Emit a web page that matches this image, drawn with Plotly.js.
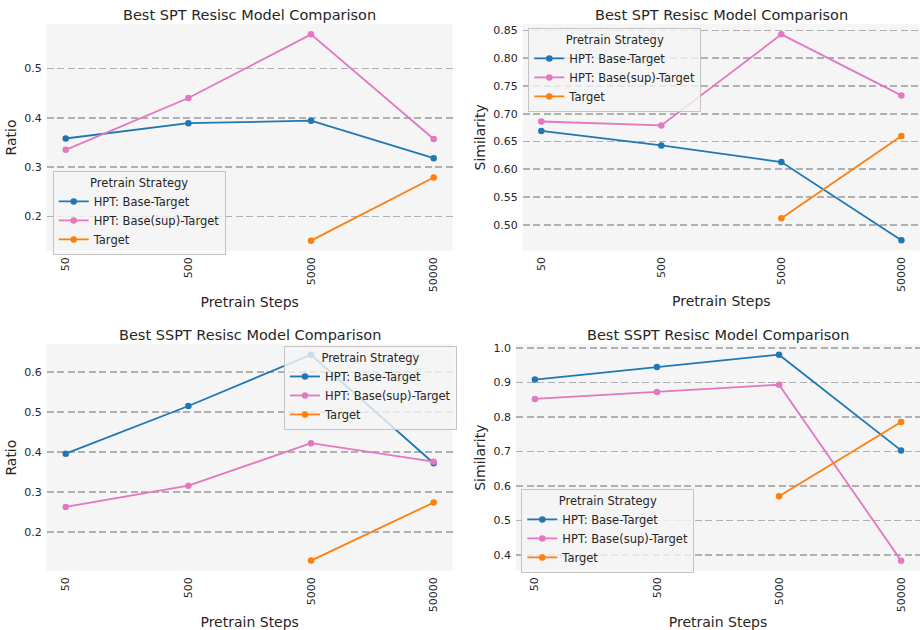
<!DOCTYPE html>
<html>
<head>
<meta charset="utf-8">
<script src="https://cdn.plot.ly/plotly-3.0.1.min.js"></script>
<style>html,body{margin:0;padding:0;background:#fff}#chart{width:920px;height:630px}</style>
</head>
<body>
<div id="chart"></div>
<script>
// ---- data ----
const steps = ['50', '500', '5000', '50000'];
const targetSteps = ['5000', '50000'];
const seriesNames = ['HPT: Base-Target', 'HPT: Base(sup)-Target', 'Target'];
const panelTitles = ['Best SPT Resisc Model Comparison', 'Best SPT Resisc Model Comparison',
                     'Best SSPT Resisc Model Comparison', 'Best SSPT Resisc Model Comparison'];
const yTitles = ['Ratio', 'Similarity', 'Ratio', 'Similarity'];

const sptRatioBase   = [0.358, 0.389, 0.394, 0.318];
const sptRatioSup    = [0.335, 0.440, 0.569, 0.357];
const sptRatioTarget = [0.151, 0.279];

const sptSimBase   = [0.669, 0.643, 0.613, 0.472];
const sptSimSup    = [0.686, 0.679, 0.843, 0.733];
const sptSimTarget = [0.512, 0.660];

const ssptRatioBase   = [0.396, 0.515, 0.643, 0.372];
const ssptRatioSup    = [0.263, 0.316, 0.422, 0.376];
const ssptRatioTarget = [0.129, 0.274];

const ssptSimBase   = [0.908, 0.944, 0.980, 0.703];
const ssptSimSup    = [0.852, 0.872, 0.893, 0.384];
const ssptSimTarget = [0.570, 0.785];

// ---- style ----
const colors = ['#1f77b4', '#e377c2', '#ff7f0e'];
const W = 920, H = 630;
const FONT = 'DejaVu Sans, sans-serif';
const TXT = '#262626';

// pixel boxes [left, right, top, bottom]
const boxes = [
  [46.7, 452.7, 24, 251],
  [522.7, 920, 24, 250.7],
  [46.7, 452.7, 344.3, 571],
  [516, 920, 344.3, 571]
];
const yRanges = [[0.130, 0.590], [0.4534, 0.8616], [0.103, 0.669], [0.354, 1.010]];
const yDticks = [0.1, 0.05, 0.1, 0.1];
const yFormats = ['.1f', '.2f', '.1f', '.1f'];
const legendPos = [[52.7, 171], [528.3, 28], [284, 346], [521.3, 489]];
const titleY = [14.7, 14.7, 335, 335];

const panels = [
  [sptRatioBase, sptRatioSup, sptRatioTarget],
  [sptSimBase, sptSimSup, sptSimTarget],
  [ssptRatioBase, ssptRatioSup, ssptRatioTarget],
  [ssptSimBase, ssptSimSup, ssptSimTarget]
];

const traces = [];
const layout = {
  width: W, height: H,
  margin: {l: 0, r: 0, t: 0, b: 0},
  paper_bgcolor: '#ffffff',
  plot_bgcolor: '#f5f5f5',
  font: {family: FONT, color: TXT, size: 11},
  showlegend: true,
  annotations: []
};

panels.forEach((series, i) => {
  const n = i + 1;
  const xa = 'x' + (n === 1 ? '' : n), ya = 'y' + (n === 1 ? '' : n);
  const legName = n === 1 ? 'legend' : 'legend' + n;
  series.forEach((vals, k) => {
    traces.push({
      type: 'scatter', mode: 'lines+markers',
      x: k === 2 ? targetSteps : steps,
      y: vals,
      name: seriesNames[k],
      xaxis: xa, yaxis: ya,
      legend: legName,
      line: {color: colors[k], width: 1.8},
      marker: {color: colors[k], size: 6.5}
    });
  });
  const b = boxes[i];
  const xKey = 'xaxis' + (n === 1 ? '' : n), yKey = 'yaxis' + (n === 1 ? '' : n);
  layout[xKey] = {
    domain: [b[0] / W, b[1] / W],
    anchor: ya,
    type: 'category',
    categoryorder: 'array', categoryarray: steps,
    range: [-0.155, 3.155],
    showgrid: false, zeroline: false, showline: false,
    ticks: '', tickangle: -90, ticklabelstandoff: 3,
    tickfont: {size: 11, color: TXT, family: FONT},
    title: {text: 'Pretrain Steps', font: {size: 14, color: TXT, family: FONT}, standoff: 5}
  };
  layout[yKey] = {
    domain: [1 - b[3] / H, 1 - b[2] / H],
    anchor: xa,
    range: yRanges[i],
    dtick: yDticks[i], tick0: 0,
    tickformat: yFormats[i],
    showgrid: true, gridcolor: '#b0b0b0', gridwidth: 1.6, griddash: '7px,3.5px',
    zeroline: false, showline: false,
    ticks: '', ticklabelstandoff: 4,
    tickfont: {size: 11, color: TXT, family: FONT},
    title: {text: yTitles[i], font: {size: 14, color: TXT, family: FONT}, standoff: 4}
  };
  const lp = legendPos[i];
  layout[legName] = {
    x: lp[0] / W, y: 1 - lp[1] / H, xanchor: 'left', yanchor: 'top',
    bgcolor: 'rgba(245,245,245,0.8)', bordercolor: '#c4c4c4', borderwidth: 1,
    font: {size: 11.5, color: TXT, family: FONT},
    title: {text: 'Pretrain Strategy', side: 'top center', font: {size: 11.5, color: TXT, family: FONT}},
    tracegroupgap: 0, itemwidth: 30
  };
  layout.annotations.push({
    text: panelTitles[i], xref: 'paper', yref: 'paper',
    x: (b[0] + b[1]) / 2 / W, y: 1 - titleY[i] / H,
    xanchor: 'center', yanchor: 'middle', showarrow: false,
    font: {size: 14.5, color: TXT, family: FONT}
  });
});

Plotly.newPlot('chart', traces, layout, {displayModeBar: false, staticPlot: true});
</script>
</body>
</html>
